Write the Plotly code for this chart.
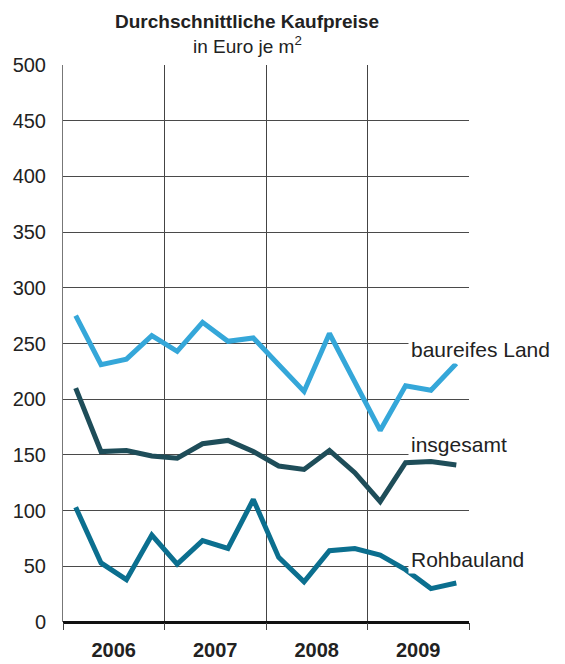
import plotly.graph_objects as go

# quarterly average purchase prices 2006-2009, euro per m2
quarters = list(range(16))
years = ["2006", "2007", "2008", "2009"]
year_centers = [1.5, 5.5, 9.5, 13.5]
y_ticks = [0, 50, 100, 150, 200, 250, 300, 350, 400, 450, 500]

baureifes_land = [275, 231, 236, 257, 243, 269, 252, 255, 231, 207, 259, 215, 172, 212, 208, 232]
insgesamt = [210, 153, 154, 149, 147, 160, 163, 153, 140, 137, 154, 134, 108, 143, 144, 141]
rohbauland = [103, 53, 38, 78, 52, 73, 66, 110, 58, 36, 64, 66, 60, 47, 30, 35]

series = [
    ("baureifes Land", baureifes_land, "#35a7d9", 244.8),
    ("insgesamt", insgesamt, "#1e4d59", 158.9),
    ("Rohbauland", rohbauland, "#0b6f8f", 55.7),
]

font = "Liberation Sans, Arial, sans-serif"

fig = go.Figure()
for name, vals, color, label_y in series:
    fig.add_trace(go.Scatter(x=quarters, y=vals, mode="lines", name=name,
                             line=dict(color=color, width=5), showlegend=False))
    fig.add_annotation(x=13.1, y=label_y, xref="x", yref="y", text=name,
                       showarrow=False, xanchor="left", yanchor="middle",
                       bgcolor="white", borderpad=2,
                       font=dict(family=font, size=21, color="#222"))

# title and subtitle
fig.add_annotation(text="<b>Durchschnittliche Kaufpreise</b>", xref="paper", yref="paper",
                   x=(247 - 63) / 406, y=1, yshift=44, showarrow=False,
                   xanchor="center", yanchor="middle",
                   font=dict(family=font, size=19, color="#222"))
fig.add_annotation(text="in Euro je m<sup>2</sup>", xref="paper", yref="paper",
                   x=(247 - 63) / 406, y=1, yshift=20, showarrow=False,
                   xanchor="center", yanchor="middle",
                   font=dict(family=font, size=19, color="#222"))

# the page body adds an 8px offset, margins compensate for it
fig.update_layout(
    width=565, height=664,
    margin=dict(l=55, r=104, t=57, b=50),
    plot_bgcolor="white", paper_bgcolor="white",
    font=dict(family=font, size=20, color="#222"),
)

fig.update_xaxes(
    range=[-0.5, 15.5], tickvals=year_centers, ticktext=[f"<b>{y}</b>" for y in years],
    ticks="", showgrid=False, zeroline=False, showline=False, automargin=False,
    ticklabelstandoff=14, tickfont=dict(size=20),
    minor=dict(tick0=-0.5, dtick=4, showgrid=True, gridcolor="#444", gridwidth=1,
               ticks="outside", ticklen=7, tickcolor="#444", tickwidth=1),
)
fig.update_yaxes(
    range=[0, 500], tickvals=y_ticks, showgrid=True, gridcolor="#4a4a4a", gridwidth=1.2,
    zeroline=True, zerolinecolor="#111", zerolinewidth=2.5, automargin=False,
    showline=True, linecolor="#777", linewidth=1, ticks="", ticklabelstandoff=12,
    tickfont=dict(size=20),
)

fig.write_html("out.html")
